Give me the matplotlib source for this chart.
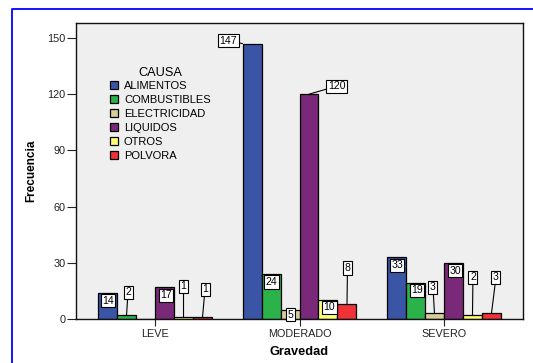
import matplotlib
matplotlib.use("Agg")
import matplotlib.pyplot as plt
import numpy as np

plt.rcParams['font.family'] = ['Liberation Sans', 'DejaVu Sans']

# Frequency of injury cause by severity
gravedad = ["LEVE", "MODERADO", "SEVERO"]
causas = ["ALIMENTOS", "COMBUSTIBLES", "ELECTRICIDAD", "LIQUIDOS", "OTROS", "POLVORA"]
alimentos = [14, 147, 33]
combustibles = [2, 24, 19]
electricidad = [0, 5, 3]
liquidos = [17, 120, 30]
otros = [1, 10, 2]
polvora = [1, 8, 3]
yticks = [0, 30, 60, 90, 120, 150]

series = [alimentos, combustibles, electricidad, liquidos, otros, polvora]
colors = ["#3A55A6", "#2BB24B", "#D4CE98", "#7A2878", "#FFFF75", "#EE3237"]

# label placement: pixel offsets from the bar top (centre, or left corner
# when the label sits to the left), per cause then per group
label_offsets = [
    [(0.5, -8), (-14, 3), (0.5, -8)],
    [(1.5, 23), (0.5, -8), (1.5, -7)],
    [None, (0.5, -5), (-1.5, 26)],
    [(1.5, -8), (27.5, 8), (1.5, -8)],
    [(0, 31), (1.5, -7), (0.5, 38)],
    [(2.5, 28), (0.5, 36), (4.5, 36)],
]

fig = plt.figure(figsize=(5.33, 3.63), dpi=100)
ax = fig.add_axes([76 / 533, 1 - 319 / 363, 447 / 533, 296 / 363])
ax.set_facecolor("#EFEFEF")

x = np.arange(len(gravedad))
w = 0.1315
n = len(series)
for i, (vals, col) in enumerate(zip(series, colors)):
    pos = x + (i - (n - 1) / 2) * w
    ax.bar(pos, vals, width=w, color=col, edgecolor="black", linewidth=0.9,
           label=causas[i], zorder=2)
    for j, (px, v) in enumerate(zip(pos, vals)):
        off = label_offsets[i][j]
        if off is None or v == 0:
            continue
        dx, dy = off
        xy_x = px - w / 2 if dx < -10 else px
        kw = {}
        if dy > 8 or abs(dx) > 10:
            kw["arrowprops"] = dict(arrowstyle="-", color="black", lw=0.8,
                                    shrinkA=0, shrinkB=0)
        ax.annotate(str(v), xy=(xy_x, v), xytext=(dx, dy),
                    textcoords="offset pixels", ha="center", va="center",
                    fontsize=7.6, zorder=5, annotation_clip=False,
                    bbox=dict(boxstyle="square,pad=0.15", fc="white",
                              ec="black", lw=0.8), **kw)

ax.set_xlim(-0.547, 2.547)
ax.set_ylim(0, 158)
ax.set_yticks(yticks)
ax.set_xticks(x)
ax.set_xticklabels(gravedad)
ax.tick_params(axis="y", length=6.5, width=0.8, labelsize=7.8, pad=1, colors="#222222")
ax.tick_params(axis="x", length=5, width=0.8, labelsize=7.8, pad=2, colors="#222222")
for s in ax.spines.values():
    s.set_linewidth(1.0)
    s.set_color("#111111")

ax.set_xlabel("Gravedad", fontsize=9.2, fontweight="bold", labelpad=5)
ax.set_ylabel("Frecuencia", fontsize=8.5, fontweight="bold", labelpad=7)

leg = ax.legend(loc="upper left", bbox_to_anchor=(0.075, 0.85), frameon=False,
                title="CAUSA", fontsize=8, title_fontsize=9.2,
                handlelength=0.75, handleheight=0.75, handletextpad=0.55,
                labelspacing=0.36, borderpad=0, borderaxespad=0)
leg._legend_box.sep = 1
for h in leg.legend_handles:
    h.set_linewidth(0.9)

# outer blue frame
fig.add_artist(plt.Line2D([12.3 / 533, 12.3 / 533, 1.0], [0.0, 1 - 9 / 363, 1 - 9 / 363],
                          transform=fig.transFigure, color="#0000FF", lw=1.3))

fig.savefig("out.png", dpi=100)
